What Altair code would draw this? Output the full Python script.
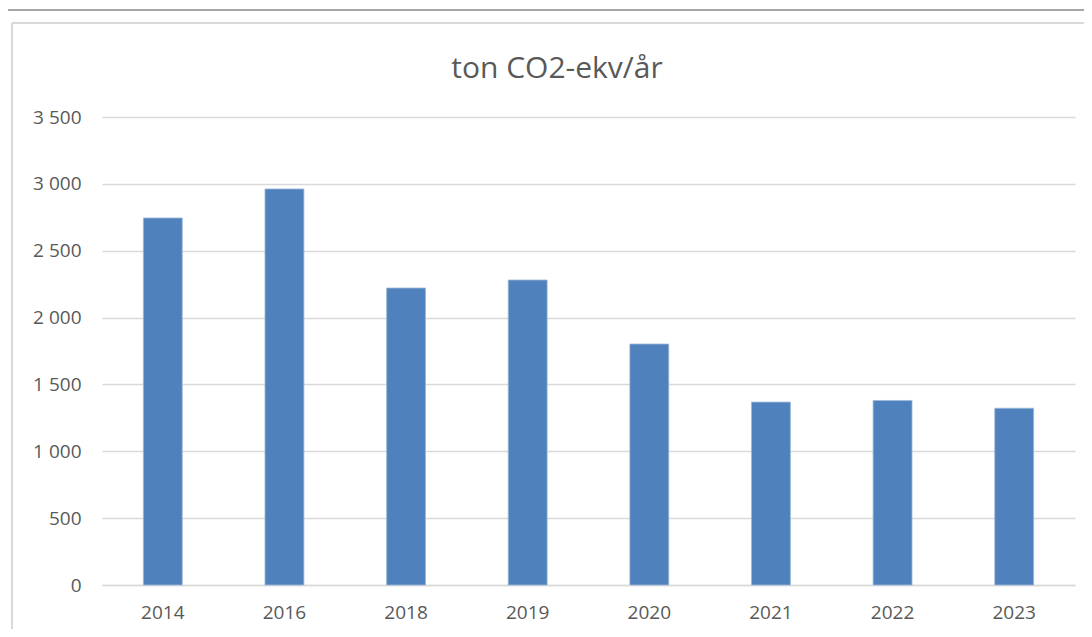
import altair as alt
import pandas as pd

years = ["2014", "2016", "2018", "2019", "2020", "2021", "2022", "2023"]
values = [2745, 2962, 2221, 2281, 1802, 1368, 1380, 1322]
title_text = "ton CO2-ekv/år"

df = pd.DataFrame({"year": years, "value": values})
title_df = pd.DataFrame({"t": [title_text]})

FONT = "Open Sans"
GREY = "#595959"

bars = alt.Chart(df).mark_bar(color="#4F81BD", stroke="#9FB9DA", strokeWidth=0.8).encode(
    x=alt.X("year:N", sort=years, title=None,
            scale=alt.Scale(paddingInner=0.68, paddingOuter=0.34),
            axis=alt.Axis(labelAngle=0, labelFont=FONT, labelFontSize=19, labelColor=GREY,
                          ticks=False, domain=True, domainColor="#D9D9D9", domainWidth=1.5,
                          labelPadding=18, grid=False)),
    y=alt.Y("value:Q", title=None,
            scale=alt.Scale(domain=[0, 3500], nice=False),
            axis=alt.Axis(values=[0, 500, 1000, 1500, 2000, 2500, 3000, 3500],
                          format=",d", labelFont=FONT, labelFontSize=19, labelColor=GREY,
                          ticks=False, domain=False, gridColor="#D9D9D9", gridWidth=1.5,
                          labelPadding=21)),
)

title_mark = alt.Chart(title_df).mark_text(
    font=FONT, fontSize=30, color=GREY, align="center", baseline="alphabetic", clip=False
).encode(text="t:N", x=alt.value(455), y=alt.value(-39))

frame_left = alt.Chart(df).mark_rule(color="#D9D9D9", strokeWidth=1.5, clip=False).encode(
    x=alt.value(-90), y=alt.value(-94), y2=alt.value(520))
frame_top = alt.Chart(df).mark_rule(color="#D9D9D9", strokeWidth=1.5, clip=False).encode(
    x=alt.value(-90), x2=alt.value(990), y=alt.value(-94))
sheet_top = alt.Chart(df).mark_rule(color="#A6A6A6", strokeWidth=1.5, clip=False).encode(
    x=alt.value(-98), x2=alt.value(990), y=alt.value(-107))

chart = alt.layer(sheet_top, frame_left, frame_top, bars, title_mark).properties(
    width=973, height=468,
    autosize=alt.AutoSizeParams(type="none"),
    padding={"left": 94, "top": 109, "right": 9, "bottom": 44},
).configure(
    locale={"number": {"decimal": ",", "thousands": "\u00a0", "grouping": [3], "currency": ["", " kr"]}}
).configure_view(strokeWidth=0, stroke="transparent")

chart.save("out.html", embed_options={"renderer": "svg", "actions": False})
